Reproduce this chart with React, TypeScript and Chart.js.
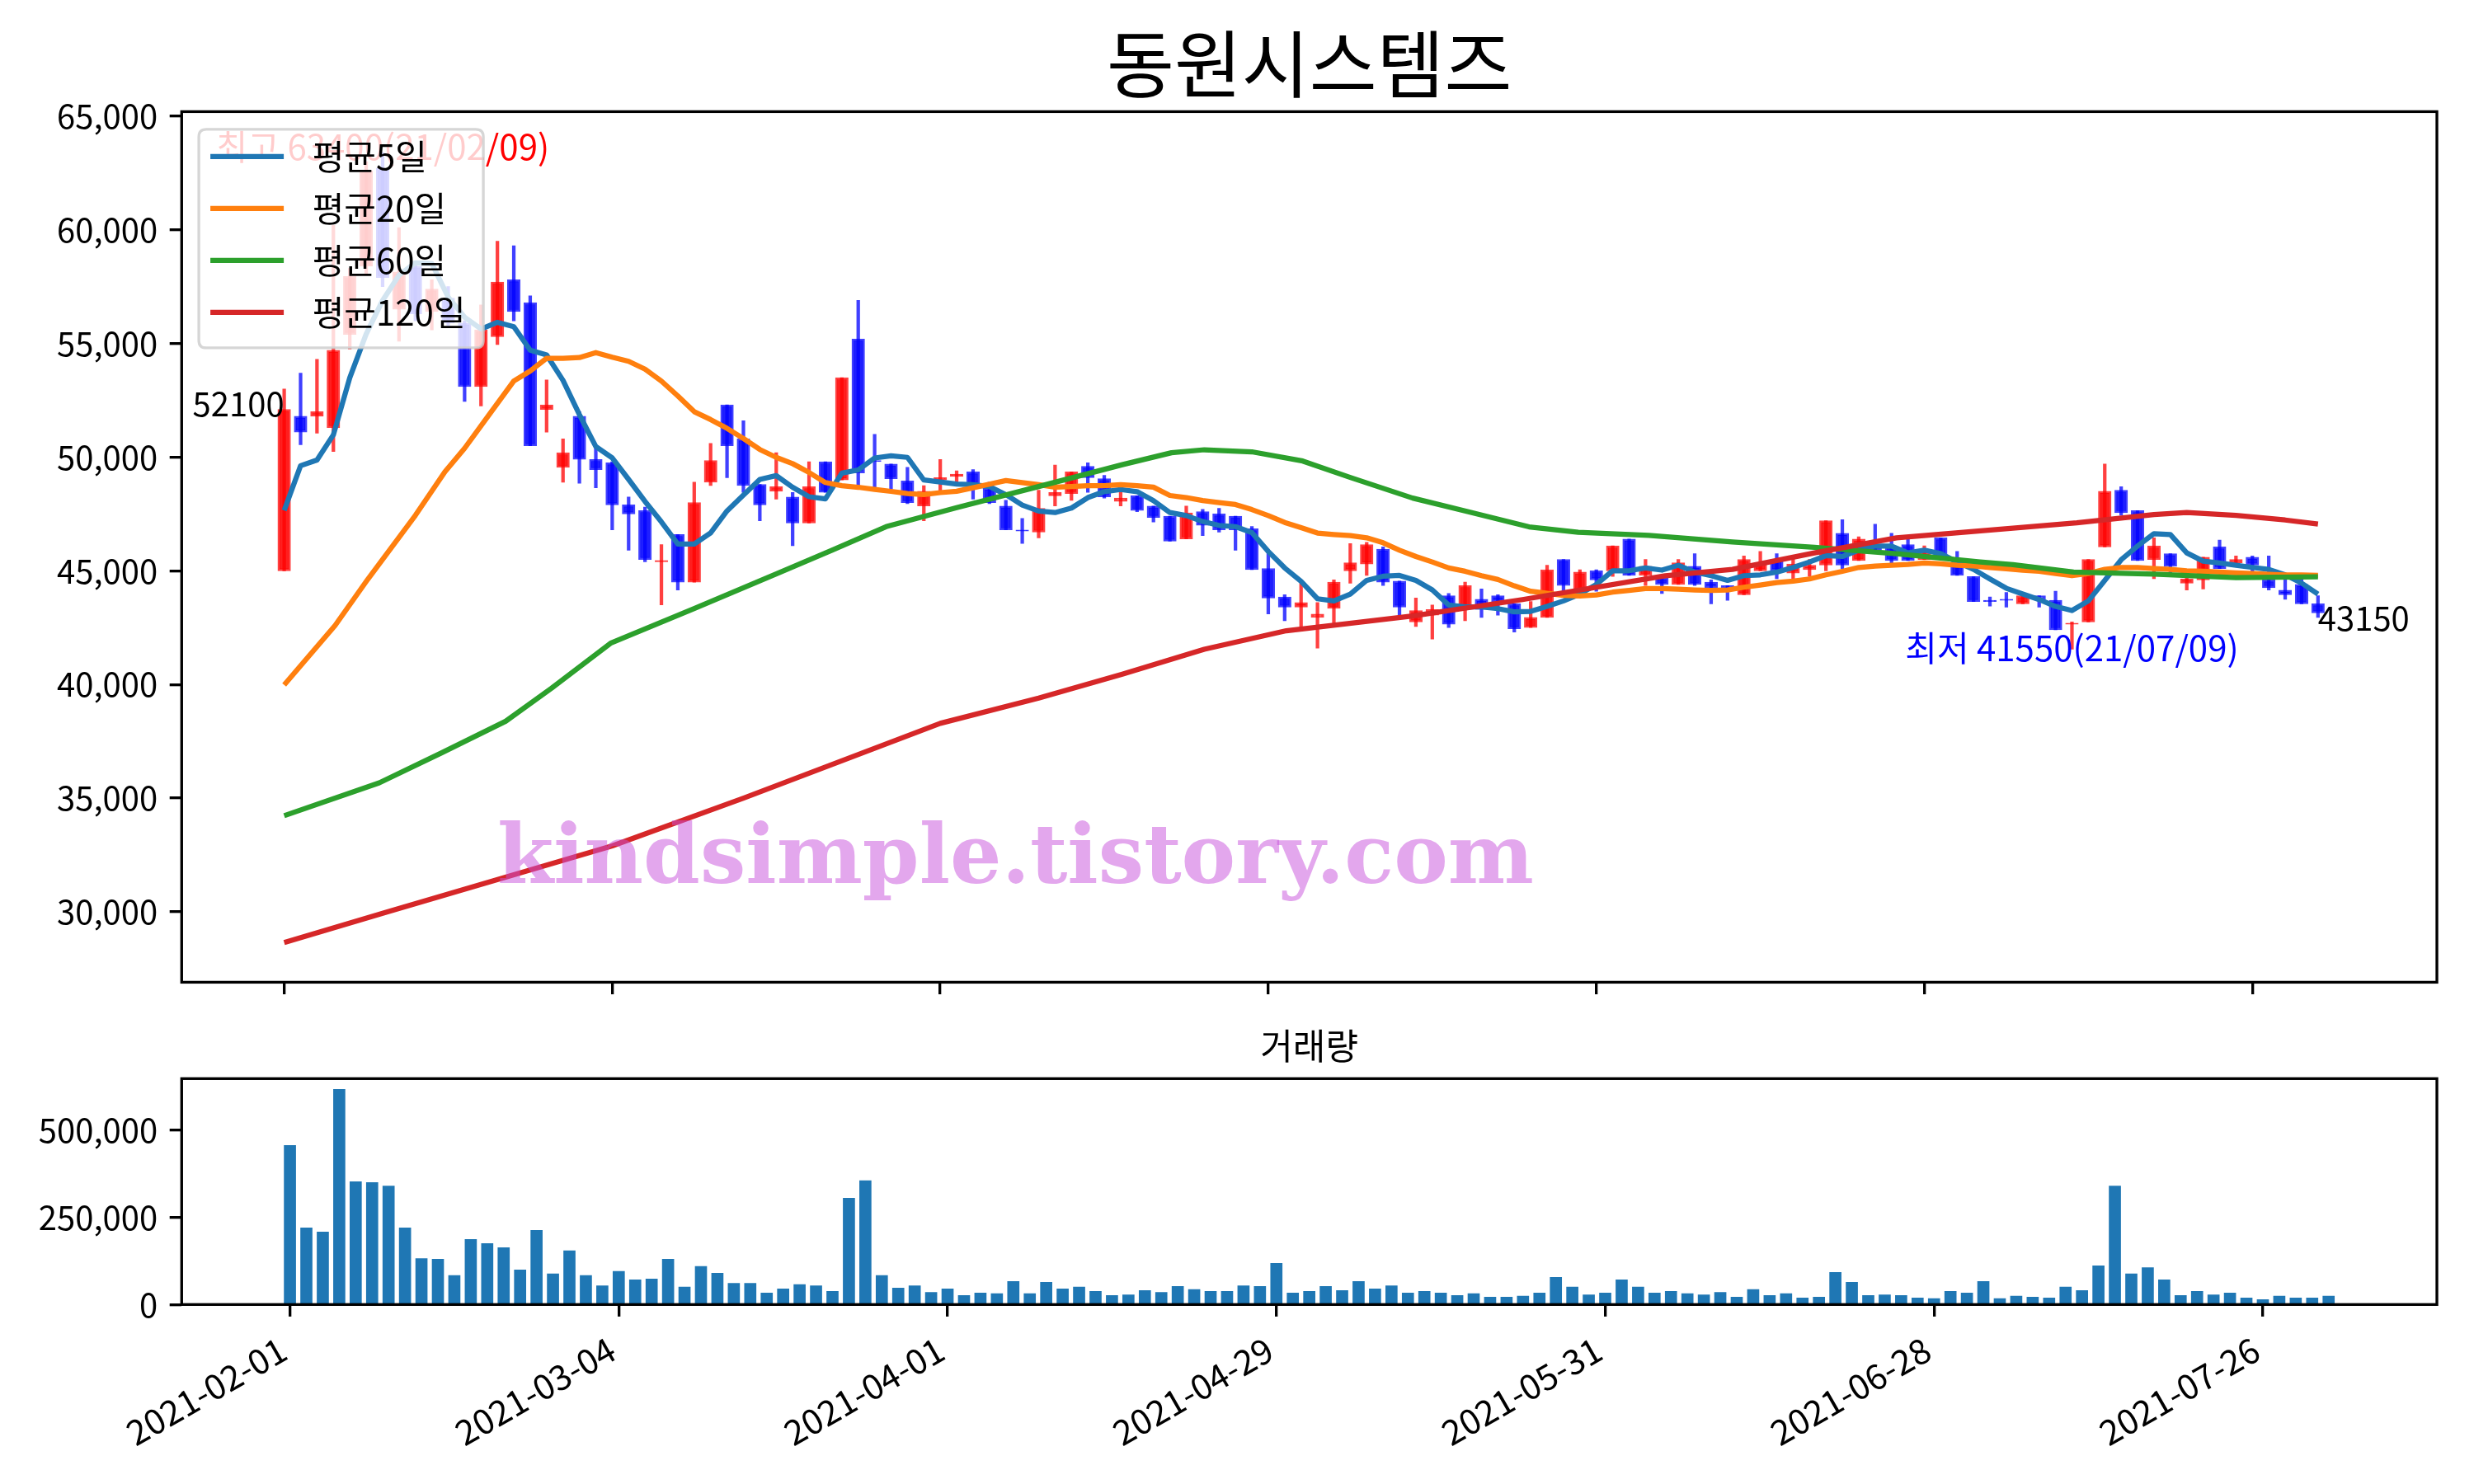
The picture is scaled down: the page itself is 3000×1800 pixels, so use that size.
import React, { useEffect, useRef } from 'react';
import { Chart, registerables } from 'chart.js';

Chart.register(...registerables);

const FONT = "'Noto Sans CJK KR', 'Noto Sans', sans-serif";
Chart.defaults.font.family = FONT;

// ---------------- data ----------------
const TITLE = '동원시스템즈';
const VOLUME_TITLE = '거래량';
const WATERMARK = 'kindsimple.tistory.com';
const legendLabels = ['평균5일', '평균20일', '평균60일', '평균120일'];
const maColors = ['#1f77b4', '#ff7f0e', '#2ca02c', '#d62728'];

const tickIdx = [0, 20, 40, 60, 80, 100, 120];
const tickDates = ['2021-02-01', '2021-03-04', '2021-04-01', '2021-04-29', '2021-05-31', '2021-06-28', '2021-07-26'];
const priceTicks = [30000, 35000, 40000, 45000, 50000, 55000, 60000, 65000];
const volumeTicks = [0, 250000, 500000];

const openP = [
  45000, 51800, 51800, 51300, 55400, 58400, 62700, 56500, 58400, 56400,
  57000, 55900, 53100, 55300, 57800, 56800, 52100, 49550, 51800, 49900,
  49750, 47900, 47650, 45400, 46600, 44500, 48900, 52300, 50800, 48800,
  48500, 48250, 47100, 49800, 49000, 55200, 49850, 49700, 48950, 47850,
  49000, 49150, 49350, 48650, 47850, 46800, 46700, 48300, 48400, 49600,
  49050, 48050, 48300, 47850, 47400, 46400, 47600, 47500, 47400, 46850,
  45100, 43850, 43400, 42950, 43350, 45000, 45300, 45950, 44550, 42750,
  43050, 43900, 43400, 43750, 43900, 43550, 42500, 42950, 45500, 44000,
  45000, 45000, 46400, 44800, 44700, 44400, 45200, 44500, 44350, 43950,
  45000, 45500, 44900, 45050, 45250, 46650, 45450, 46100, 46050, 46150,
  45500, 46450, 45250, 44750, 43700, 43750, 43550, 43900, 43700, 42650,
  42750, 46050, 48550, 47650, 45500, 45750, 44450, 44600, 46050, 45350,
  45600, 44600, 44150, 44400, 43550,
];
const highP = [
  53000, 53700, 54300, 60200, 58300, 63000, 63400, 60100, 58600, 57800,
  57500, 56000, 56700, 59500, 59300, 57100, 53400, 50800, 52000, 50400,
  49800, 48250, 47800, 46150, 46600, 48900, 50600, 52300, 51600, 48800,
  50200, 48450, 49800, 49800, 53500, 56900, 51000, 49700, 49550, 48750,
  49900, 49400, 49450, 48900, 48100, 47300, 48550, 49650, 49350, 49750,
  49200, 48500, 48300, 47850, 47400, 47850, 47700, 47750, 47400, 46950,
  45850, 43950, 44450, 43600, 44600, 46200, 46250, 46050, 44550, 43800,
  43500, 44000, 44500, 44200, 43950, 43550, 43650, 45250, 45500, 45050,
  45050, 46100, 46400, 45500, 44700, 45500, 45750, 44600, 44350, 45650,
  45850, 45750, 45600, 45500, 47200, 47250, 46500, 47050, 46650, 46400,
  46100, 46450, 45850, 44750, 43850, 44050, 43900, 43900, 44100, 42750,
  45500, 49700, 48700, 47650, 46450, 45750, 44750, 45600, 46350, 45650,
  45650, 45650, 44650, 44650, 43900,
];
const lowP = [
  45000, 50550, 51050, 50250, 54750, 58000, 57500, 55100, 56000, 55600,
  55800, 52450, 52250, 54950, 56000, 50500, 51100, 48900, 48850, 48650,
  46800, 45900, 45400, 43500, 44150, 44500, 48750, 49100, 48450, 47200,
  48150, 46100, 47100, 48450, 49000, 48600, 48650, 48600, 47950, 47200,
  48450, 48900, 48150, 47950, 46800, 46200, 46450, 47850, 48100, 48450,
  48200, 47850, 47600, 47150, 46300, 46400, 46550, 46700, 45900, 45050,
  43100, 42800, 42450, 41600, 42700, 44450, 44800, 44350, 43050, 42550,
  42000, 42500, 42800, 42950, 43050, 42300, 42500, 42950, 44100, 43950,
  44100, 44750, 44800, 44350, 44000, 44400, 44350, 43550, 43700, 43950,
  45000, 44650, 44650, 44750, 45000, 45100, 45450, 45750, 45350, 45450,
  45500, 45600, 44800, 43650, 43450, 43400, 43550, 43400, 42400, 41550,
  42750, 46050, 47450, 45450, 44650, 44900, 44150, 44200, 45100, 45250,
  44950, 44150, 43750, 43550, 42950,
];
const closeP = [
  52100, 51100, 52000, 54700, 57950, 62600, 57900, 58150, 56300, 57400,
  55900, 53100, 55600, 57700, 56400, 50500, 52300, 50200, 49900, 49450,
  47900, 47500, 45500, 45450, 44500, 48000, 49850, 50500, 48750, 47900,
  48700, 47100, 48700, 48450, 53500, 49300, 49800, 49050, 48000, 48500,
  49100, 49250, 48800, 48000, 46800, 46750, 47750, 48450, 49350, 49100,
  48250, 48200, 47650, 47350, 46300, 47550, 47000, 46800, 46800, 45050,
  43800, 43400, 43600, 43100, 44500, 45350, 46150, 44500, 43400, 43250,
  43300, 42650, 44350, 43300, 43650, 42450, 42950, 45050, 44350, 44950,
  44600, 46100, 44800, 45200, 44400, 45350, 44400, 44250, 44250, 45500,
  45350, 45000, 45300, 45250, 47200, 45250, 46400, 45900, 45450, 45450,
  45800, 45600, 44800, 43650, 43650, 43700, 43900, 43750, 42400, 42700,
  45500, 48500, 47550, 45450, 46100, 45200, 44650, 45600, 45100, 45500,
  45250, 44250, 43950, 43550, 43150,
];
const volume = [
  456000, 220000, 208000, 617000, 352000, 350000, 340000, 220000, 132000, 130000,
  83000, 187000, 175000, 163000, 99000, 213000, 88000, 154000, 83000, 54000,
  95000, 71000, 73000, 130000, 50000, 109000, 90000, 61000, 61000, 33000,
  45000, 57000, 54000, 38000, 305000, 355000, 83000, 47000, 54000, 35000,
  45000, 26000, 33000, 31000, 66000, 31000, 64000, 45000, 50000, 38000,
  26000, 28000, 40000, 35000, 52000, 43000, 38000, 38000, 54000, 52000,
  118000, 33000, 38000, 52000, 40000, 66000, 45000, 54000, 33000, 38000,
  33000, 26000, 31000, 21000, 21000, 24000, 33000, 78000, 50000, 28000,
  33000, 71000, 50000, 33000, 38000, 31000, 28000, 35000, 21000, 43000,
  26000, 31000, 19000, 21000, 92000, 64000, 26000, 28000, 26000, 19000,
  17000, 38000, 33000, 66000, 17000, 24000, 21000, 19000, 50000, 40000,
  111000, 340000, 88000, 106000, 71000, 26000, 38000, 28000, 33000, 19000,
  14000, 24000, 19000, 19000, 24000,
];

const ma5 = [
  47657, 49622, 49873, 50982, 53494, 55415, 56893, 58002, 58548, 58519,
  57041, 56154, 55637, 55933, 55741, 54706, 54499, 53376, 51869, 50465,
  49970, 49021, 48051, 47151, 46181, 46181, 46666, 47636, 48328, 49021,
  49187, 48675, 48259, 48162, 49298, 49437, 49964, 50061, 49991, 48994,
  48910, 48813, 48787, 48708, 48352, 47892, 47628, 47563, 47760, 48221,
  48484, 48576, 48484, 48089, 47563, 47431, 47168, 46997, 46944, 46681,
  45852, 45128, 44536, 43770, 43675, 43977, 44580, 44762, 44797, 44580,
  44158, 43494, 43410, 43410, 43337, 43193, 43217, 43434, 43675, 43977,
  44400, 45003, 45003, 45124, 45030, 45244, 44943, 44786, 44581, 44786,
  44822, 44943, 45148, 45389, 45667, 45630, 45908, 46089, 46089, 45787,
  45908, 45751, 45389, 45063, 44641, 44230, 43977, 43736, 43434, 43253,
  43676, 44580, 45486, 46089, 46632, 46596, 45787, 45425, 45341, 45244,
  45148, 45063, 44822, 44460, 43977,
];

const ma20EarlyIdx = [0, 3.1, 5.1, 8, 9.8, 11, 12.5, 14, 15, 16, 17, 18, 19];
const ma20EarlyVal = [39980, 42590, 44630, 47440, 49360, 50390, 51870, 53350, 53790, 54350, 54350, 54380, 54600];
const ma20Late = [
  54397, 54217, 53871, 53344, 52693, 52000, 51654, 51266, 50823, 50337,
  49991, 49714, 49326, 48883, 48744, 48675, 48578, 48495, 48398, 48356,
  48440, 48500, 48655, 48813, 48971, 48879, 48787, 48681, 48708, 48747,
  48747, 48787, 48747, 48681, 48313, 48221, 48089, 47997, 47918, 47694,
  47431, 47128, 46900, 46660, 46596, 46548, 46451, 46234, 45908, 45630,
  45389, 45124, 44979, 44786, 44617, 44339, 44098, 44013, 43917, 43893,
  43941, 44062, 44134, 44218, 44218, 44194, 44158, 44134, 44158, 44279,
  44375, 44484, 44544, 44641, 44822, 44979, 45148, 45208, 45244, 45280,
  45341, 45305, 45244, 45220, 45148, 45093, 45027, 44979, 44882, 44786,
  44882, 45063, 45148, 45148, 45099, 45063, 45003, 44979, 44943, 44906,
  44882, 44846, 44822, 44822, 44797,
];
const ma20LateStart = 20;

const ma60Idx = [0, 5.8, 9.6, 13.5, 16.3, 19.9, 25, 30, 33.4, 36.7, 41, 46, 51.1, 54.1, 56.1, 59, 62.1, 65, 68.8, 72.2, 75.9, 78.9, 83.2, 88.3, 93.3, 98.3, 103.4, 105.4, 109.1, 114, 119, 124];
const ma60Val = [34226, 35673, 36992, 38379, 39838, 41816, 43340, 44864, 45904, 46943, 47780, 48708, 49668, 50195, 50326, 50234, 49830, 49106, 48201, 47598, 46934, 46692, 46560, 46270, 46029, 45751, 45389, 45268, 44943, 44858, 44701, 44737];

const ma120Idx = [0, 6.3, 20, 28, 40, 46, 51.1, 56.1, 61.1, 68.8, 75.5, 84.2, 88.3, 93.3, 98.3, 105.4, 109.3, 114, 116, 119, 122, 124];
const ma120Val = [28650, 30000, 32900, 35000, 38290, 39403, 40455, 41548, 42364, 43012, 43735, 44780, 45063, 45787, 46451, 46880, 47115, 47477, 47561, 47440, 47235, 47054];

const maxNote = { idx: 6, value: 63400, text: '최고 63400(21/02/09)' };
const minNote = { idx: 109, value: 41550, text: '최저 41550(21/07/09)' };

// ---------------- layout ----------------
const W = 3000;
const H1 = 1230;
const H2 = 570;
const PLOT_LEFT = 220.3;
const PAD_RIGHT = 45;
const MAIN_TOP = 135.4;
const MAIN_BOTTOM = 1193.3;
const VOL_TOP = 1308.3 - H1;
const VOL_BOTTOM = 1582.3 - H1;
const SPINE = 3.33;
const TICK_LEN = 14.6;
const FS = 40;
const FS_TEXT = 42;

const UP_FILL = 'rgba(255,0,0,0.88)';
const DOWN_FILL = 'rgba(0,0,255,0.88)';
const UP_EDGE = 'rgba(255,0,0,0.75)';
const DOWN_EDGE = 'rgba(0,0,255,0.75)';

function pairs(idx: number[], val: number[]) {
  return idx.map((x, i) => ({ x, y: val[i] }));
}

const mainPlugin = {
  id: 'mainDecor',
  afterDatasetsDraw(chart: any) {
    const { ctx, chartArea: a, scales } = chart;
    const x = scales.x;
    const y = scales.y;
    ctx.save();
    // watermark
    ctx.font = `bold 94px 'DejaVu Serif', serif`;
    const wmW = ctx.measureText(WATERMARK).width;
    const wmSize = 94 * 1257 / wmW;
    ctx.font = `bold ${wmSize}px 'DejaVu Serif', serif`;
    ctx.fillStyle = 'rgba(200,80,220,0.5)';
    ctx.textAlign = 'left';
    ctx.textBaseline = 'alphabetic';
    ctx.fillText(WATERMARK, 603, 1071);

    ctx.font = `${FS_TEXT}px ${FONT}`;
    ctx.textBaseline = 'middle';
    // annotations
    ctx.fillStyle = '#ff0000';
    ctx.textAlign = 'center';
    ctx.fillText(maxNote.text, x.getPixelForValue(maxNote.idx), y.getPixelForValue(maxNote.value) - 7);
    ctx.fillStyle = '#0000ff';
    ctx.fillText(minNote.text, x.getPixelForValue(minNote.idx), y.getPixelForValue(minNote.value) - 1);
    ctx.font = `${FS}px ${FONT}`;
    ctx.fillStyle = '#000';
    ctx.textAlign = 'right';
    ctx.fillText(String(closeP[0]), x.getPixelForValue(0), y.getPixelForValue(closeP[0]) - 7);
    const last = closeP.length - 1;
    ctx.textAlign = 'left';
    ctx.fillText(String(closeP[last]), x.getPixelForValue(last), y.getPixelForValue(closeP[last]) + 6);
    // frame
    ctx.strokeStyle = '#000';
    ctx.lineWidth = SPINE;
    ctx.strokeRect(a.left, a.top, a.right - a.left, a.bottom - a.top);
    // legend
    const lx = a.left + 20.8;
    const ly = a.top + 21.5;
    const lw = 345;
    const lh = 265;
    const r = 9;
    ctx.beginPath();
    ctx.moveTo(lx + r, ly);
    ctx.lineTo(lx + lw - r, ly);
    ctx.quadraticCurveTo(lx + lw, ly, lx + lw, ly + r);
    ctx.lineTo(lx + lw, ly + lh - r);
    ctx.quadraticCurveTo(lx + lw, ly + lh, lx + lw - r, ly + lh);
    ctx.lineTo(lx + r, ly + lh);
    ctx.quadraticCurveTo(lx, ly + lh, lx, ly + lh - r);
    ctx.lineTo(lx, ly + r);
    ctx.quadraticCurveTo(lx, ly, lx + r, ly);
    ctx.closePath();
    ctx.fillStyle = 'rgba(255,255,255,0.8)';
    ctx.fill();
    ctx.strokeStyle = 'rgba(204,204,204,0.8)';
    ctx.lineWidth = 3.3;
    ctx.stroke();
    ctx.font = `${FS_TEXT}px ${FONT}`;
    legendLabels.forEach((lab, k) => {
      const yy = ly + 33 + k * 63;
      ctx.strokeStyle = maColors[k];
      ctx.lineWidth = 6.25;
      ctx.beginPath();
      ctx.moveTo(lx + 14, yy);
      ctx.lineTo(lx + 103, yy);
      ctx.stroke();
      ctx.fillStyle = '#000';
      ctx.textAlign = 'left';
      ctx.fillText(lab, lx + 137.6, yy);
    });
    // title
    ctx.font = `89px ${FONT}`;
    ctx.textAlign = 'center';
    ctx.fillStyle = '#000';
    ctx.fillText(TITLE, (a.left + a.right) / 2, 77);
    ctx.restore();
  },
};

const volPlugin = {
  id: 'volDecor',
  afterDatasetsDraw(chart: any) {
    const { ctx, chartArea: a } = chart;
    ctx.save();
    ctx.strokeStyle = '#000';
    ctx.lineWidth = SPINE;
    ctx.strokeRect(a.left, a.top, a.right - a.left, a.bottom - a.top);
    ctx.font = `43px ${FONT}`;
    ctx.textAlign = 'center';
    ctx.textBaseline = 'middle';
    ctx.fillStyle = '#000';
    ctx.fillText(VOLUME_TITLE, (a.left + a.right) / 2, 39);
    ctx.restore();
  },
};

const gridTicks = {
  display: true,
  drawOnChartArea: false,
  drawTicks: true,
  offset: false,
  tickLength: TICK_LEN,
  tickWidth: SPINE,
  tickColor: '#000',
  lineWidth: SPINE,
  color: '#000',
};

export default function App() {
  const mainRef = useRef<HTMLCanvasElement | null>(null);
  const volRef = useRef<HTMLCanvasElement | null>(null);

  useEffect(() => {
    if (!mainRef.current || !volRef.current) return;
    const up = closeP.map((c, i) => c >= openP[i]);
    const lineDs = (label: string, data: any[], color: string, order: number) => ({
      label,
      data,
      borderColor: color,
      borderWidth: 6.25,
      pointRadius: 0,
      fill: false,
      tension: 0,
      borderJoinStyle: 'round',
      order,
    });
    const main = new Chart(mainRef.current, {
      type: 'line',
      data: {
        datasets: [
          {
            type: 'bar',
            label: 'wick',
            data: lowP.map((l, i) => ({ x: i, y: [l, highP[i]] })) as any,
            backgroundColor: up.map((u) => (u ? UP_EDGE : DOWN_EDGE)),
            barThickness: 3.6,
            grouped: false,
            order: 7,
          } as any,
          {
            type: 'bar',
            label: 'body',
            data: openP.map((o, i) => ({ x: i, y: [o, closeP[i]] })) as any,
            backgroundColor: up.map((u) => (u ? UP_FILL : DOWN_FILL)),
            borderColor: up.map((u) => (u ? UP_EDGE : DOWN_EDGE)),
            borderWidth: 2.5,
            borderSkipped: false,
            barThickness: 15.5,
            grouped: false,
            order: 6,
          } as any,
          lineDs(legendLabels[0], ma5.map((v, i) => ({ x: i, y: v })), maColors[0], 4),
          lineDs(
            legendLabels[1],
            [...pairs(ma20EarlyIdx, ma20EarlyVal), ...ma20Late.map((v, i) => ({ x: i + ma20LateStart, y: v }))],
            maColors[1],
            3,
          ),
          lineDs(legendLabels[2], pairs(ma60Idx, ma60Val), maColors[2], 2),
          lineDs(legendLabels[3], pairs(ma120Idx, ma120Val), maColors[3], 1),
        ],
      },
      options: {
        responsive: false,
        animation: false,
        devicePixelRatio: 1,
        layout: { padding: { left: 0, right: PAD_RIGHT, top: MAIN_TOP, bottom: 0 } },
        plugins: { legend: { display: false }, tooltip: { enabled: false }, title: { display: false } },
        scales: {
          x: {
            type: 'linear',
            min: -6.25,
            max: 131.25,
            offset: false,
            grid: gridTicks as any,
            border: { display: false },
            afterBuildTicks: (axis: any) => {
              axis.ticks = tickIdx.map((v) => ({ value: v }));
            },
            afterFit: (s: any) => {
              s.height = H1 - MAIN_BOTTOM;
            },
            ticks: { autoSkip: false, callback: () => '' },
          },
          y: {
            type: 'linear',
            min: 26900,
            max: 65200,
            grid: gridTicks as any,
            border: { display: false },
            afterBuildTicks: (axis: any) => {
              axis.ticks = priceTicks.map((v) => ({ value: v }));
            },
            afterFit: (s: any) => {
              s.width = PLOT_LEFT;
            },
            ticks: {
              padding: TICK_LEN,
              color: '#000',
              font: { size: FS, family: FONT },
              callback: (v: any) => Number(v).toLocaleString('en-US'),
            },
          },
        },
      },
      plugins: [mainPlugin],
    } as any);

    const vol = new Chart(volRef.current, {
      type: 'bar',
      data: {
        datasets: [
          {
            label: VOLUME_TITLE,
            data: volume.map((v, i) => ({ x: i, y: v })) as any,
            backgroundColor: '#1f77b4',
            borderWidth: 0,
            barThickness: 14,
          },
        ],
      },
      options: {
        responsive: false,
        animation: false,
        devicePixelRatio: 1,
        layout: { padding: { left: 0, right: PAD_RIGHT, top: VOL_TOP, bottom: 0 } },
        plugins: { legend: { display: false }, tooltip: { enabled: false }, title: { display: false } },
        scales: {
          x: {
            type: 'linear',
            min: -6.585,
            max: 130.585,
            offset: false,
            grid: gridTicks as any,
            border: { display: false },
            afterBuildTicks: (axis: any) => {
              axis.ticks = tickIdx.map((v) => ({ value: v }));
            },
            afterFit: (s: any) => {
              s.height = H2 - VOL_BOTTOM;
            },
            ticks: {
              autoSkip: false,
              maxRotation: 30,
              minRotation: 30,
              padding: TICK_LEN,
              labelOffset: -8,
              color: '#000',
              font: { size: 42, family: FONT },
              callback: (v: any) => {
                const k = tickIdx.indexOf(Number(v));
                return k >= 0 ? tickDates[k] : '';
              },
            },
          },
          y: {
            type: 'linear',
            min: 0,
            max: Math.max(...volume) * 1.05,
            grid: gridTicks as any,
            border: { display: false },
            afterBuildTicks: (axis: any) => {
              axis.ticks = volumeTicks.map((v) => ({ value: v }));
            },
            afterFit: (s: any) => {
              s.width = PLOT_LEFT;
            },
            ticks: {
              padding: TICK_LEN,
              color: '#000',
              font: { size: FS, family: FONT },
              callback: (v: any) => Number(v).toLocaleString('en-US'),
            },
          },
        },
      },
      plugins: [volPlugin],
    } as any);

    return () => {
      main.destroy();
      vol.destroy();
    };
  }, []);

  return (
    <div style={{ position: 'absolute', left: 0, top: 0, width: W, height: H1 + H2, background: '#fff' }}>
      <canvas ref={mainRef} width={W} height={H1} style={{ position: 'absolute', left: 0, top: 0, width: W, height: H1 }} />
      <canvas ref={volRef} width={W} height={H2} style={{ position: 'absolute', left: 0, top: H1, width: W, height: H2 }} />
    </div>
  );
}
